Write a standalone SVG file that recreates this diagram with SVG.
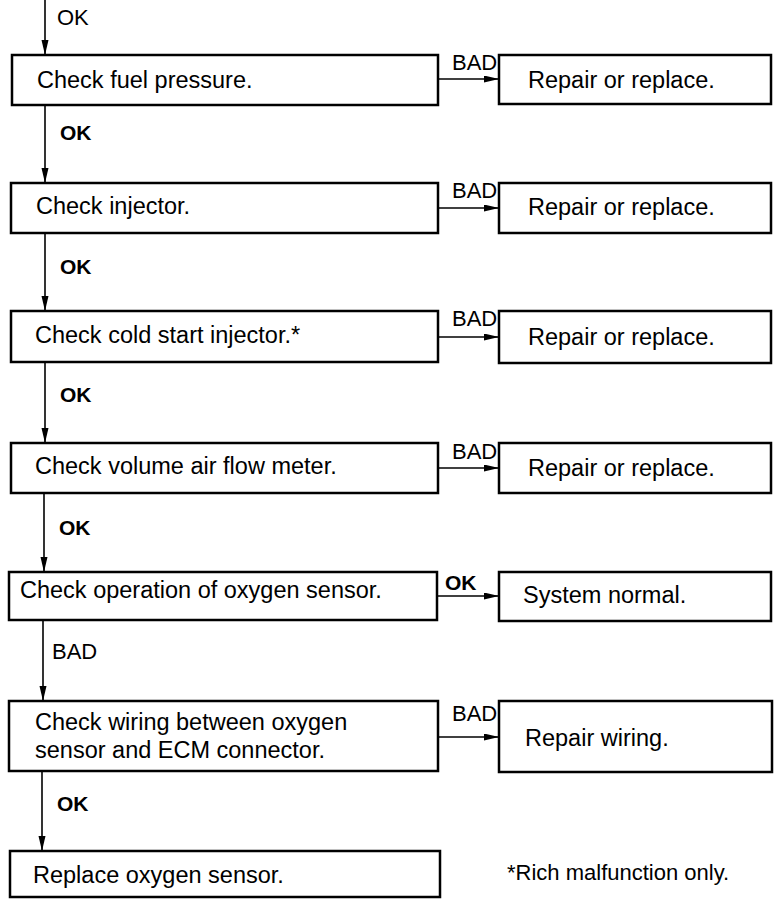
<svg xmlns="http://www.w3.org/2000/svg" width="778" height="901" viewBox="0 0 778 901">
<style>
.box{fill:#fff;stroke:#000;stroke-width:2.5}
.t{font-family:"Liberation Sans",Arial,sans-serif;font-size:23.5px;fill:#000}
.lb{font-family:"Liberation Sans",Arial,sans-serif;font-size:22px;fill:#000}
.lbb{font-family:"Liberation Sans",Arial,sans-serif;font-size:21px;font-weight:bold;fill:#000}
.c{fill:none;stroke:#000;stroke-width:1.6}
</style>
<defs>
<marker id="ah" markerUnits="userSpaceOnUse" markerWidth="16" markerHeight="8" refX="15" refY="3.5" orient="auto">
<path d="M0,0 L15,3.5 L0,7 z" fill="#000"/>
</marker>
</defs>
<g id="connectors">
<path class="c" d="M45,0 V55" marker-end="url(#ah)"/>
<path class="c" d="M45,105 V183" marker-end="url(#ah)"/>
<path class="c" d="M45,233 V311" marker-end="url(#ah)"/>
<path class="c" d="M45,362 V443" marker-end="url(#ah)"/>
<path class="c" d="M44,493 V572" marker-end="url(#ah)"/>
<path class="c" d="M43,620 V701" marker-end="url(#ah)"/>
<path class="c" d="M42,771 V851" marker-end="url(#ah)"/>
<path class="c" d="M438,79 H499" marker-end="url(#ah)"/>
<path class="c" d="M438,208 H499" marker-end="url(#ah)"/>
<path class="c" d="M438,337 H499" marker-end="url(#ah)"/>
<path class="c" d="M438,468 H499" marker-end="url(#ah)"/>
<path class="c" d="M437,596 H499" marker-end="url(#ah)"/>
<path class="c" d="M438,737 H499" marker-end="url(#ah)"/>
<text class="lb" x="57" y="25">OK</text>
<text class="lbb" x="60" y="140">OK</text>
<text class="lbb" x="60" y="274">OK</text>
<text class="lbb" x="60" y="402">OK</text>
<text class="lbb" x="59" y="535">OK</text>
<text class="lb" x="52" y="659">BAD</text>
<text class="lbb" x="57" y="811">OK</text>
<text class="lb" x="452" y="70">BAD</text>
<text class="lb" x="452" y="198">BAD</text>
<text class="lb" x="452" y="326">BAD</text>
<text class="lb" x="452" y="459">BAD</text>
<text class="lbb" x="445" y="590">OK</text>
<text class="lb" x="452" y="721">BAD</text>
</g>
<g id="n1"><rect class="box" x="12" y="55" width="426" height="50"/><text class="t" x="37" y="88">Check fuel pressure.</text></g>
<g id="r1"><rect class="box" x="499" y="55" width="272" height="49"/><text class="t" x="528" y="88">Repair or replace.</text></g>
<g id="n2"><rect class="box" x="11" y="183" width="427" height="50"/><text class="t" x="36" y="214">Check injector.</text></g>
<g id="r2"><rect class="box" x="499" y="183" width="272" height="50"/><text class="t" x="528" y="215">Repair or replace.</text></g>
<g id="n3"><rect class="box" x="11" y="311" width="427" height="51"/><text class="t" x="35" y="343">Check cold start injector.*</text></g>
<g id="r3"><rect class="box" x="499" y="311" width="272" height="52"/><text class="t" x="528" y="345">Repair or replace.</text></g>
<g id="n4"><rect class="box" x="11" y="443" width="427" height="50"/><text class="t" x="35" y="474">Check volume air flow meter.</text></g>
<g id="r4"><rect class="box" x="499" y="443" width="272" height="50"/><text class="t" x="528" y="476">Repair or replace.</text></g>
<g id="n5"><rect class="box" x="9" y="572" width="428" height="48"/><text class="t" x="20" y="598">Check operation of oxygen sensor.</text></g>
<g id="r5"><rect class="box" x="499" y="572" width="272" height="49"/><text class="t" x="523" y="603">System normal.</text></g>
<g id="n6"><rect class="box" x="9" y="701" width="429" height="70"/><text class="t" x="35" y="730">Check wiring between oxygen</text><text class="t" x="35" y="758">sensor and ECM connector.</text></g>
<g id="r6"><rect class="box" x="499" y="701" width="273" height="71"/><text class="t" x="525" y="746">Repair wiring.</text></g>
<g id="n7"><rect class="box" x="10" y="851" width="430" height="46"/><text class="t" x="33" y="883">Replace oxygen sensor.</text></g>
<text class="lb" x="507" y="880">*Rich malfunction only.</text>
</svg>
